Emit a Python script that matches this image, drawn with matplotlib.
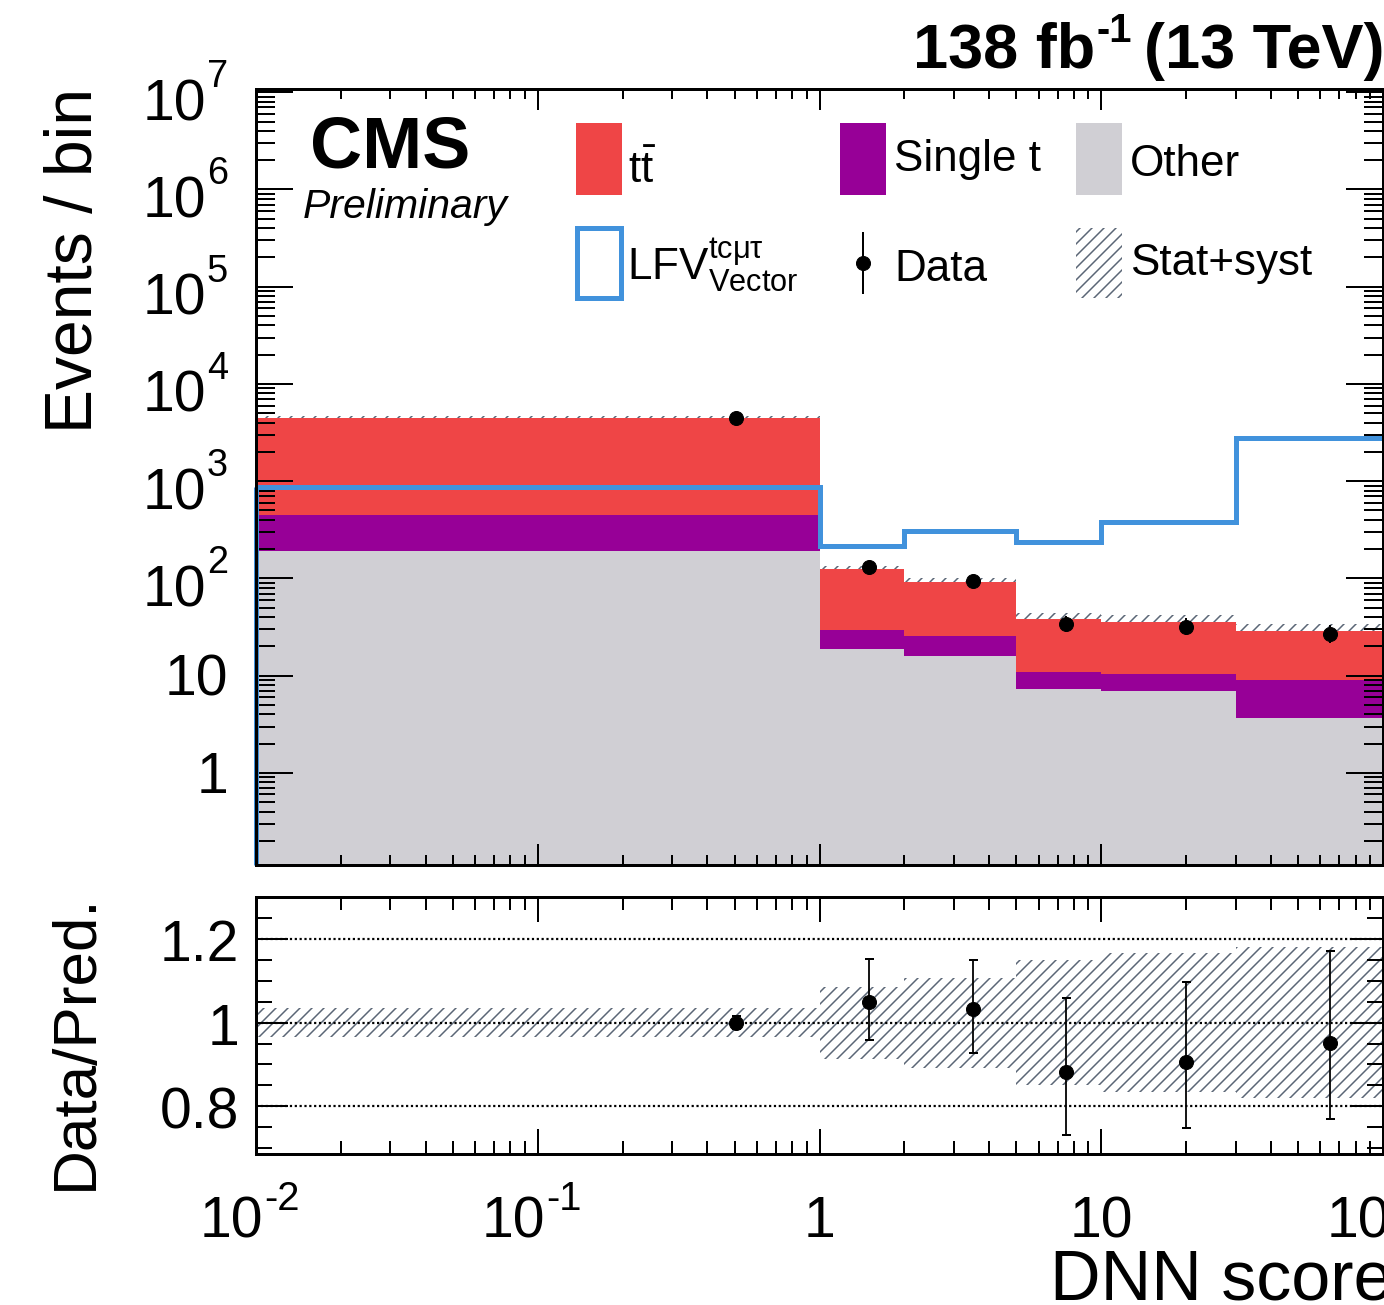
import numpy as np
import matplotlib
matplotlib.use('Agg')
import matplotlib.pyplot as plt
from matplotlib.transforms import offset_copy
from matplotlib.patches import Rectangle
from matplotlib.lines import Line2D
from matplotlib.ticker import LogLocator, MultipleLocator, NullFormatter

plt.rcParams['font.family'] = ['Liberation Sans', 'DejaVu Sans']
plt.rcParams['mathtext.fontset'] = 'custom'
plt.rcParams['mathtext.rm'] = 'Liberation Sans'
plt.rcParams['mathtext.it'] = 'Liberation Sans:italic'
plt.rcParams['mathtext.bf'] = 'Liberation Sans:bold'
plt.rcParams['mathtext.sf'] = 'Liberation Sans'
plt.rcParams['hatch.linewidth'] = 1.5

# ---------------- data ----------------
bin_edges = [0.01, 1, 2, 5, 10, 30, 100]
bin_centers = [0.505, 1.5, 3.5, 7.5, 20, 65]
other = [193, 19.0, 15.8, 7.3, 7.0, 3.65]
single_t = [260, 10.3, 9.8, 3.5, 3.4, 5.45]
ttbar = [4047, 94.7, 66.4, 27.8, 25.3, 19.5]
signal = [867, 217, 310, 237, 384, 2805]
data = [4500, 130, 95, 34, 32, 26.9]
ratio = [1.00, 1.050, 1.033, 0.881, 0.906, 0.951]
ratio_err_up = [0.015, 0.102, 0.118, 0.179, 0.191, 0.221]
ratio_err_dn = [0.015, 0.091, 0.105, 0.151, 0.158, 0.181]
unc_rel = [0.035, 0.086, 0.108, 0.150, 0.166, 0.181]

main_ytick_vals = [1, 10, 1e2, 1e3, 1e4, 1e5, 1e6, 1e7]
main_ytick_base = ['1', '10', '10', '10', '10', '10', '10', '10']
main_ytick_exp = ['', '', '2', '3', '4', '5', '6', '7']
ratio_ytick_vals = [0.8, 1.0, 1.2]
ratio_ytick_labels = ['0.8', '1', '1.2']
xtick_vals = [0.01, 0.1, 1, 10, 100]
xtick_base = ['10', '10', '1', '10', '10']
xtick_exp = ['-2', '-1', '', '', '2']
ratio_ref_lines = [0.8, 1.0, 1.2]

legend_labels = [r'$\mathrm{t\bar{t}}$', 'Single t', 'Other',
                 r'LFV$^{\mathrm{tc\mu\tau}}_{\mathrm{Vector}}$', 'Data', 'Stat+syst']

# ---------------- style ----------------
c_tt = '#ef4546'
c_st = '#970097'
c_oth = '#d0cfd4'
c_sig = '#4192dc'
c_hatch = '#5a6676'

W, H = 1384, 1305
DPI = 72
fig = plt.figure(figsize=(W / DPI, H / DPI), dpi=DPI)


def fx(x):
    return x / W


def fy(y):
    return 1 - y / H


ax1 = fig.add_axes([fx(256), fy(865), fx(1383) - fx(256), fy(89) - fy(865)])
ax2 = fig.add_axes([fx(256), fy(1154), fx(1383) - fx(256), fy(897) - fy(1154)])

edges = np.array(bin_edges)
oth = np.array(other)
st = np.array(single_t)
tt = np.array(ttbar)
tot2 = oth + st
tot3 = tot2 + tt
u = np.array(unc_rel)
ymin, ymax = 0.113, 1.08e7

# stacked backgrounds
ax1.stairs(oth, edges, baseline=1e-3, fill=True, color=c_oth, lw=0, zorder=1)
ax1.stairs(tot2, edges, baseline=oth, fill=True, color=c_st, lw=0, zorder=1)
ax1.stairs(tot3, edges, baseline=tot2, fill=True, color=c_tt, lw=0, zorder=1)
ax1.stairs(tot3 * (1 + u), edges, baseline=tot3 * (1 - u), fill=True,
           facecolor='none', edgecolor=c_hatch, hatch='//', lw=0, zorder=0.9)

# signal
ax1.stairs(signal, edges, baseline=None, color=c_sig, lw=5, zorder=2)
ax1.vlines(edges[0], ymin, signal[0], color=c_sig, lw=5, zorder=2, clip_on=False)

# data
d = np.array(data)
r = np.array(ratio)
eu = np.array(ratio_err_up)
ed = np.array(ratio_err_dn)
ax1.errorbar(bin_centers, d, yerr=[d * ed / r, d * eu / r], fmt='o', color='k',
             ms=14, elinewidth=2, capsize=0, zorder=5)

ax1.set_xscale('log')
ax1.set_yscale('log')
ax1.set_xlim(0.01, 100)
ax1.set_ylim(ymin, ymax)

# ratio panel
ax2.stairs(1 + u, edges, baseline=1 - u, fill=True, facecolor='none',
           edgecolor=c_hatch, hatch='//', lw=0, zorder=1)
for v in ratio_ref_lines:
    ax2.axhline(v, color='k', ls=(0, (1, 1.2)), lw=2.2, zorder=1.5)
ax2.errorbar(bin_centers, r, yerr=[ed, eu], fmt='o', color='k', ms=14,
             elinewidth=1.8, capsize=4.5, capthick=2, zorder=5)
ax2.set_xscale('log')
ax2.set_xlim(0.01, 100)
ax2.set_ylim(0.6855, 1.301)

# ticks
for ax in (ax1, ax2):
    for s in ax.spines.values():
        s.set_linewidth(3)
    ax.xaxis.set_major_locator(LogLocator(base=10, numticks=20))
    ax.xaxis.set_minor_locator(LogLocator(base=10, subs=np.arange(2, 10), numticks=20))
    ax.tick_params(which='both', direction='in', top=True, right=True,
                   labelleft=False, labelbottom=False, width=2)

ax1.yaxis.set_major_locator(LogLocator(base=10, numticks=20))
ax1.yaxis.set_minor_locator(LogLocator(base=10, subs=np.arange(2, 10), numticks=20))
ax1.yaxis.set_minor_formatter(NullFormatter())
ax1.tick_params(axis='x', which='major', length=21)
ax1.tick_params(axis='x', which='minor', length=10)
ax1.tick_params(axis='y', which='major', length=37)
ax1.tick_params(axis='y', which='minor', length=19)

ax2.yaxis.set_major_locator(MultipleLocator(0.2))
ax2.yaxis.set_minor_locator(MultipleLocator(0.05))
ax2.tick_params(axis='x', which='major', length=25)
ax2.tick_params(axis='x', which='minor', length=13)
ax2.tick_params(axis='y', which='major', length=32)
ax2.tick_params(axis='y', which='minor', length=16)

FS = 57
SFS = 40

# top-panel y tick labels
tr1 = ax1.get_yaxis_transform()
for v, b, e in zip(main_ytick_vals, main_ytick_base, main_ytick_exp):
    if e:
        s = ax1.text(0, v, e, fontsize=38, ha='right', va='baseline',
                     transform=offset_copy(tr1, fig=fig, x=-28, y=5, units='dots'))
        ax1.annotate(b, xy=(0, v), xycoords=(s, tr1), xytext=(-1, -28),
                     textcoords='offset pixels', fontsize=FS, ha='right',
                     va='baseline', annotation_clip=False)
    else:
        ax1.text(0, v, b, fontsize=FS, ha='right', va='baseline',
                 transform=offset_copy(tr1, fig=fig, x=-28, y=-20, units='dots'))

# ratio y tick labels
tr2 = ax2.get_yaxis_transform()
for v, lbl in zip(ratio_ytick_vals, ratio_ytick_labels):
    ax2.text(0, v, lbl, fontsize=FS, ha='right', va='baseline',
             transform=offset_copy(tr2, fig=fig, x=-17, y=-22, units='dots'))

# x tick labels
trx = ax2.get_xaxis_transform()
for v, b, e in zip(xtick_vals, xtick_base, xtick_exp):
    if e:
        ax2.text(v, 0, b, fontsize=FS, ha='right', va='baseline',
                 transform=offset_copy(trx, fig=fig, x=7, y=-83, units='dots'))
        ax2.text(v, 0, e, fontsize=SFS, ha='left', va='baseline',
                 transform=offset_copy(trx, fig=fig, x=8, y=-56, units='dots'))
    else:
        ax2.text(v, 0, b, fontsize=FS, ha='center', va='baseline',
                 transform=offset_copy(trx, fig=fig, x=0, y=-83, units='dots'))

# axis titles
fig.text(fx(92), fy(88), 'Events / bin', fontsize=66, rotation=90,
         rotation_mode='anchor', ha='right', va='baseline')
fig.text(fx(92), fy(894), 'Data/Pred.', fontsize=62, rotation=90,
         rotation_mode='anchor', ha='right', va='baseline')
fig.text(fx(1393), fy(1300), 'DNN score', fontsize=70, ha='right', va='baseline')

# CMS labels
fig.text(fx(310), fy(168), 'CMS', fontsize=72, weight='bold', ha='left', va='baseline')
fig.text(fx(303), fy(218), 'Preliminary', fontsize=41, style='italic', ha='left', va='baseline')

A = fig.text(fx(1384), fy(68), '(13 TeV)', fontsize=63, weight='bold', ha='right', va='baseline')
S = ax1.annotate('-1', xy=(0, fy(68)), xycoords=(A, fig.transFigure), xytext=(-12, 26),
                 textcoords='offset pixels', fontsize=40, weight='bold', ha='right',
                 va='baseline', annotation_clip=False)
ax1.annotate('138 fb', xy=(0, fy(68)), xycoords=(S, fig.transFigure), xytext=(-1, 0),
             textcoords='offset pixels', fontsize=63, weight='bold', ha='right',
             va='baseline', annotation_clip=False)

# legend (manual)
LFS = 44
fig.add_artist(Rectangle((fx(576), fy(195)), fx(622) - fx(576), fy(123) - fy(195),
                         transform=fig.transFigure, color=c_tt, lw=0))
fig.add_artist(Rectangle((fx(840), fy(195)), fx(886) - fx(840), fy(123) - fy(195),
                         transform=fig.transFigure, color=c_st, lw=0))
fig.add_artist(Rectangle((fx(1076), fy(195)), fx(1122) - fx(1076), fy(123) - fy(195),
                         transform=fig.transFigure, color=c_oth, lw=0))
fig.add_artist(Rectangle((fx(576.5), fy(297.5)), fx(620.5) - fx(576.5), fy(227.5) - fy(297.5),
                         transform=fig.transFigure, fill=False, edgecolor=c_sig, lw=5))
fig.add_artist(Line2D([fx(863), fx(863)], [fy(233), fy(293)], transform=fig.transFigure,
                      color='k', lw=2))
fig.add_artist(Line2D([fx(863)], [fy(263)], transform=fig.transFigure, marker='o',
                      ms=14, color='k', lw=0))
fig.add_artist(Rectangle((fx(1076), fy(298)), fx(1122) - fx(1076), fy(228) - fy(298),
                         transform=fig.transFigure, facecolor='none', edgecolor=c_hatch,
                         hatch='//', lw=0))

fig.text(fx(628), fy(183), legend_labels[0], fontsize=LFS, ha='left', va='baseline')
fig.text(fx(894), fy(171), legend_labels[1], fontsize=LFS, ha='left', va='baseline')
fig.text(fx(1130), fy(176), legend_labels[2], fontsize=LFS, ha='left', va='baseline')
fig.text(fx(627), fy(280), legend_labels[3], fontsize=LFS, ha='left', va='baseline')
fig.text(fx(894), fy(281), legend_labels[4], fontsize=LFS, ha='left', va='baseline')
fig.text(fx(1130), fy(275), legend_labels[5], fontsize=LFS, ha='left', va='baseline')

fig.savefig('out.png', dpi=DPI)
